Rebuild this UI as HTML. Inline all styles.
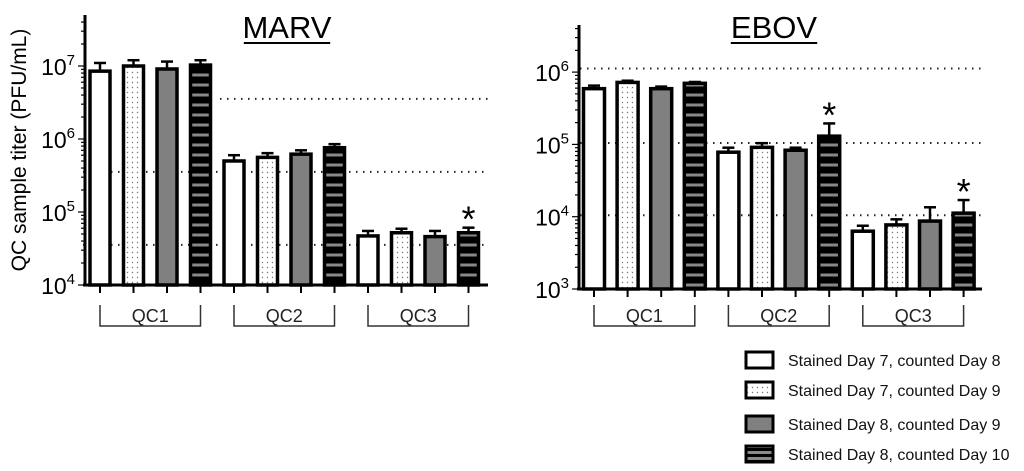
<!DOCTYPE html>
<html><head><meta charset="utf-8"><style>
body{margin:0;background:#fff;}
svg{display:block;font-family:"Liberation Sans",sans-serif;}
</style></head><body>
<svg id="c" width="1024" height="471" viewBox="0 0 1024 471">
<defs>
<pattern id="dots" width="5" height="5" patternUnits="userSpaceOnUse"><rect width="5" height="5" fill="#fff"/><circle cx="2.5" cy="2.5" r="0.7" fill="#777"/></pattern>
<pattern id="stripes" width="10" height="10" patternUnits="userSpaceOnUse"><rect width="10" height="10" fill="#000"/><rect x="0" y="3.5" width="10" height="3" fill="#888"/></pattern>
<pattern id="lstripes" width="10" height="6" patternUnits="userSpaceOnUse"><rect width="10" height="6" fill="#000"/><rect x="0" y="1" width="10" height="3" fill="#888"/></pattern>
</defs>
</svg>
<script>
const groups = ['QC1','QC2','QC3'];
const seriesNames = ['Stained Day 7, counted Day 8','Stained Day 7, counted Day 9','Stained Day 8, counted Day 9','Stained Day 8, counted Day 10'];
const marvValues = [[8.5e6,1.0e7,9.1e6,1.03e7],[5.0e5,5.6e5,6.2e5,7.6e5],[4.7e4,5.2e4,4.6e4,5.2e4]];
const marvErrTop = [[1.1e7,1.2e7,1.15e7,1.2e7],[6.0e5,6.4e5,7.0e5,8.5e5],[5.5e4,5.9e4,5.5e4,6.1e4]];
const ebovValues = [[5.9e5,7.2e5,5.9e5,7.0e5],[7.8e4,9.1e4,8.3e4,1.3e5],[6.3e3,7.7e3,8.7e3,1.12e4]];
const ebovErrTop = [[6.5e5,7.6e5,6.3e5,7.3e5],[9.0e4,1.04e5,9.0e4,1.95e5],[7.5e3,9.2e3,1.35e4,1.7e4]];
const marvTicks = [4,5,6,7];
const ebovTicks = [3,4,5,6];
const marvStars = [[2,3]];
const ebovStars = [[1,3],[2,3]];

const svg = document.getElementById('c');
const NS = 'http://www.w3.org/2000/svg';
function mk(tag, attrs, parent){const e=document.createElementNS(NS,tag);for(const k in attrs)e.setAttribute(k,attrs[k]);(parent||svg).appendChild(e);return e;}
const fills = ['#fff','url(#dots)','#808080','url(#stripes)'];

function panel(cfg){
  const g = mk('g',{});
  
  
  const y = v => cfg.y0 - (Math.log10(v)-cfg.minExp)*cfg.dec;
  cfg.dotted.forEach((d,i)=>{
    const l = mk('line',{x1:d[1],x2:cfg.xEnd,y1:y(d[0]),y2:y(d[0]),stroke:'#222','stroke-width':2,'stroke-dasharray':'1.5 5.5'},g);
    
    
  });
  cfg.values.forEach((grp,gi)=>grp.forEach((v,si)=>{
    const cx = cfg.x0 + (gi*4+si)*cfg.step;
    const top = y(v), et = y(cfg.err[gi][si]);
    const e = mk('line',{x1:cx,x2:cx,y1:et,y2:top,stroke:'#000','stroke-width':2.5},g);
    
    
    mk('line',{x1:cx-6,x2:cx+6,y1:et,y2:et,stroke:'#000','stroke-width':2.5},g);
    const r = mk('rect',{x:cx-cfg.bw/2,y:top,width:cfg.bw,height:cfg.y0-top,fill:fills[si],stroke:'#000','stroke-width':3.5},g);
    
    
    mk('line',{x1:cx,x2:cx,y1:cfg.y0,y2:cfg.y0+8,stroke:'#000','stroke-width':2},g);
  }));
  cfg.stars.forEach(s=>{
    const cx = cfg.x0 + (s[0]*4+s[1])*cfg.step;
    const t = mk('text',{x:cx,y:y(cfg.err[s[0]][s[1]])+4,'font-size':36,'text-anchor':'middle'},g);
    t.textContent='*';
    
    
  });
  mk('line',{x1:cfg.ax,x2:cfg.ax,y1:cfg.yTop,y2:cfg.y0+1,stroke:'#000','stroke-width':3},g);
  mk('line',{x1:cfg.ax-2,x2:cfg.xEnd,y1:cfg.y0,y2:cfg.y0,stroke:'#000','stroke-width':3},g);
  const maxE = cfg.minExp + (cfg.y0-cfg.yTop)/cfg.dec;
  for(let e=cfg.minExp;e<maxE;e++){
    for(let m=1;m<10;m++){
      const v=e+Math.log10(m); if(v>maxE) break;
      const yy=y(Math.pow(10,v));
      mk('line',{x1:cfg.ax-(m==1?7:4),x2:cfg.ax,y1:yy,y2:yy,stroke:'#000','stroke-width':1.2},g);
    }
  }
  cfg.ticks.forEach(t=>{
    const tx = mk('text',{x:cfg.ax-10,y:y(Math.pow(10,t))+9,'font-size':23,'text-anchor':'end'},g);
    tx.innerHTML = '10<tspan dy="-10" font-size="15">'+t+'</tspan>';
    
    
  });
  groups.forEach((gname,gi)=>{
    const a = cfg.x0+gi*4*cfg.step, b = a+3*cfg.step;
    mk('path',{d:`M${a} 305V326H${b}V305`,fill:'none',stroke:'#333','stroke-width':1.5},g);
    const t = mk('text',{x:(a+b)/2,y:322,'font-size':18,'text-anchor':'middle',fill:'#222'},g);
    t.textContent=gname;
    
    
  });
  const ti = mk('text',{x:cfg.titleX,y:38,'font-size':31,'text-anchor':'middle'},g);
  ti.textContent=cfg.title;
  
  
  const tw = cfg.title.length*10.8;
  mk('line',{x1:cfg.titleX-tw,x2:cfg.titleX+tw,y1:43,y2:43,stroke:'#000','stroke-width':2},g);
}

panel({name:'marv',title:'MARV',titleX:287,values:marvValues,err:marvErrTop,ticks:marvTicks,stars:marvStars,
  minExp:4,y0:285,dec:73,yTop:15,ax:85,xEnd:488,x0:100,step:33.5,bw:20,
  dotted:[[Math.pow(10,6.55),220],[Math.pow(10,5.55),83],[Math.pow(10,4.55),83]]});
panel({name:'ebov',title:'EBOV',titleX:774,values:ebovValues,err:ebovErrTop,ticks:ebovTicks,stars:ebovStars,
  minExp:3,y0:289,dec:72.3,yTop:25,ax:579,xEnd:982,x0:594,step:33.6,bw:21,
  dotted:[[Math.pow(10,6.05),580],[Math.pow(10,5.02),580],[Math.pow(10,4.02),580]]});

const yt = mk('text',{x:0,y:0,'font-size':21,'text-anchor':'middle',transform:'translate(26,150) rotate(-90)'});
yt.textContent='QC sample titer (PFU/mL)';



const legFills = ['#fff','url(#dots)','#808080','url(#lstripes)'];
const legY = [360,390,424,454];
seriesNames.forEach((n,i)=>{
  const g = mk('g',{});
  
  
  mk('rect',{x:746,y:legY[i]-8,width:27,height:16,fill:legFills[i],stroke:'#000','stroke-width':3},g);
  const t = mk('text',{x:788,y:legY[i]+6,'font-size':16,fill:'#111'},g);
  t.textContent=n;
});
</script>
</body></html>
